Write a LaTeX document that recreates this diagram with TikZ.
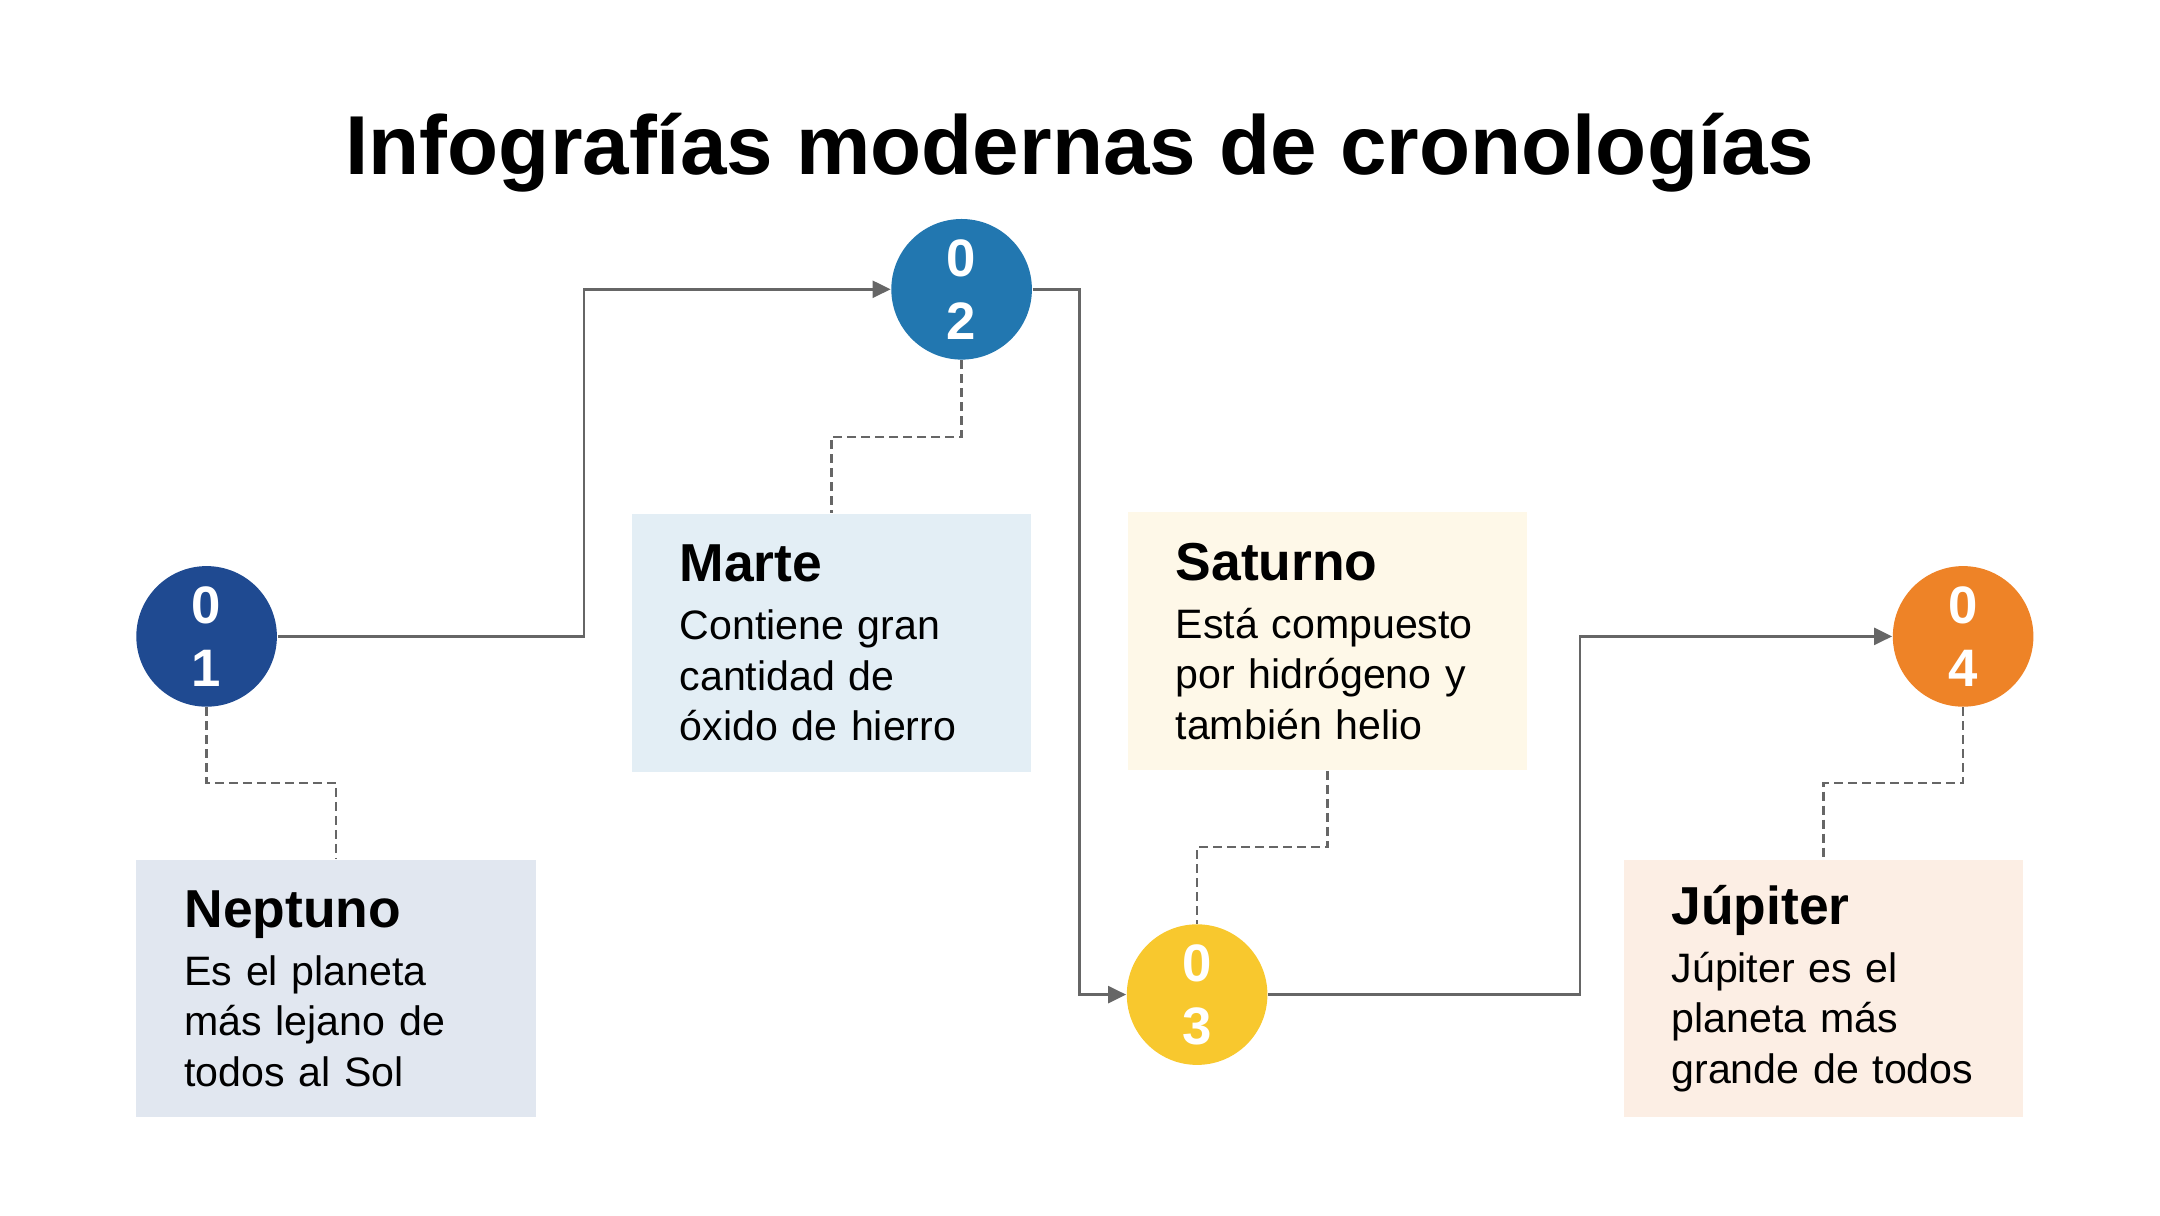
\documentclass[tikz,border=0pt]{standalone}
\usepackage{fontspec}
\setmainfont{Liberation Sans}
\usepackage{xcolor}
\definecolor{deepblue}{HTML}{1F4A91}
\definecolor{oceanblue}{HTML}{2277B0}
\definecolor{sunyellow}{HTML}{F8C82E}
\definecolor{tangerine}{HTML}{EE8327}
\definecolor{bluegray}{HTML}{E1E7F0}
\definecolor{paleblue}{HTML}{E3EEF5}
\definecolor{cream}{HTML}{FEF8E8}
\definecolor{peach}{HTML}{FCEEE4}
\definecolor{linegray}{HTML}{666666}
\usetikzlibrary{positioning,arrows.meta,calc}
\newcommand\planet[1]{{\fontsize{15.2}{18}\selectfont\bfseries #1}}

\begin{document}
\begin{tikzpicture}[font=\fontsize{11.7}{14.3}\selectfont,
  dot/.style={circle, minimum size=1.406cm, inner sep=0pt, align=center, text=white, font=\fontsize{15}{18}\selectfont\bfseries},
  card/.style={minimum height=2.577cm, text width=3.035cm, inner xsep=4.8mm, inner ysep=0pt, align=left},
  link/.style={-{Triangle[length=1.8mm, width=1.7mm]}, line width=0.7pt, linegray},
  lead/.style={line width=0.7pt, linegray, dash pattern=on 0.9mm off 0.5mm}]
  \useasboundingbox (0,0) rectangle (21.6,12.15);
  \node[anchor=base, font=\fontsize{23.8}{28}\selectfont\bfseries] (title) at (10.8,10.40) {Infografías modernas de cronologías};
  % hitos
  \node[dot, fill=deepblue] (c1) at (2.066,5.786) {0\\1};
  \node[dot, fill=oceanblue] (c2) at (9.616,9.257) {0\\2};
  \node[dot, fill=sunyellow] (c3) at (11.971,2.204) {0\\3};
  \node[dot, fill=tangerine] (c4) at (19.631,5.786) {0\\4};
  % tarjetas
  \node[card, fill=bluegray, below=1.515cm of c1, xshift=1.296cm] (neptuno) {\planet{Neptuno}\\[0.8mm] Es el planeta\\ más lejano de\\ todos al Sol};
  \node[card, fill=paleblue, below=1.529cm of c2, xshift=-1.302cm] (marte) {\planet{Marte}\\[0.8mm] Contiene gran\\ cantidad de\\ \mbox{óxido de hierro}};
  \node[card, fill=cream, above=1.528cm of c3, xshift=1.303cm] (saturno) {\planet{Saturno}\\[0.8mm] \mbox{Está compuesto}\\ por hidrógeno y\\ también helio};
  \node[card, fill=peach, below=1.515cm of c4, xshift=-1.398cm] (jupiter) {\planet{Júpiter}\\[0.8mm] Júpiter es el\\ planeta más\\ \mbox{grande de todos}};
  % recorrido
  \draw[link] (c1.east) -| ($(c1.east)!.5!(c2.west)$) |- (c2.west);
  \draw[link] (c2.east) -| ($(c2.east)!.5!(c3.west)$) |- (c3.west);
  \draw[link] (c3.east) -| ($(c3.east)!.5!(c4.west)$) |- (c4.west);
  \draw[lead] (c1.south) |- ($(c1.south)!.5!(neptuno.north)$) -| (neptuno.north);
  \draw[lead] (c2.south) |- ($(c2.south)!.5!(marte.north)$) -| (marte.north);
  \draw[lead] (saturno.south) |- ($(saturno.south)!.5!(c3.north)$) -| (c3.north);
  \draw[lead] (c4.south) |- ($(c4.south)!.5!(jupiter.north)$) -| (jupiter.north);
\end{tikzpicture}
\end{document}
